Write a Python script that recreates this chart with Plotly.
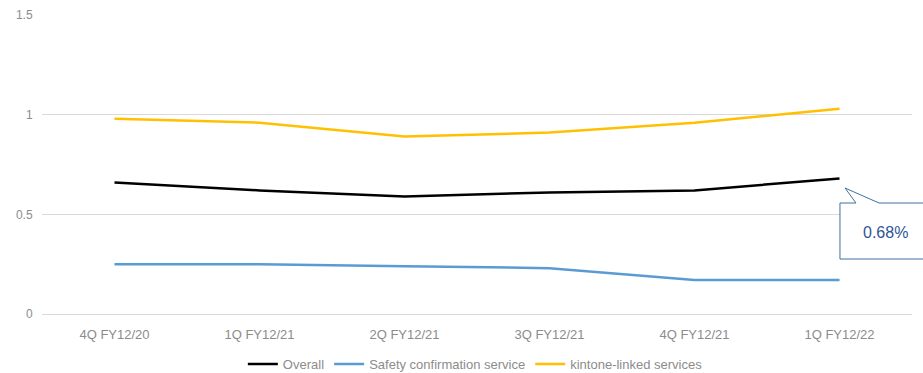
import plotly.graph_objects as go

categories = ["4Q FY12/20", "1Q FY12/21", "2Q FY12/21", "3Q FY12/21", "4Q FY12/21", "1Q FY12/22"]
overall = [0.66, 0.62, 0.59, 0.61, 0.62, 0.68]
safety = [0.25, 0.25, 0.24, 0.23, 0.17, 0.17]
kintone = [0.98, 0.96, 0.89, 0.91, 0.96, 1.03]
y_ticks = [0, 0.5, 1, 1.5]
y_tick_labels = ["0", "0.5", "1", "1.5"]
callout_text = "0.68%"

W, H = 923, 373
L, R, T, B = 42, 11, 15, 59
pw, ph = W - L - R, H - T - B

def px(x):
    return (x - L) / pw

def py(y):
    return (H - B - y) / ph

fig = go.Figure()
fig.add_trace(go.Scatter(x=categories, y=overall, mode="lines", name="Overall",
                         line=dict(color="#000000", width=2.5)))
fig.add_trace(go.Scatter(x=categories, y=safety, mode="lines", name="Safety confirmation service",
                         line=dict(color="#5b9bd5", width=2.5)))
fig.add_trace(go.Scatter(x=categories, y=kintone, mode="lines", name="kintone-linked services",
                         line=dict(color="#ffc000", width=2.5)))

pts = [(845, 188), (856, 203), (840, 203), (840, 259), (935, 259), (935, 203), (879, 203)]
path = "M " + " L ".join(f"{px(a):.4f},{py(b):.4f}" for a, b in pts) + " Z"
fig.add_shape(type="path", xref="paper", yref="paper", path=path,
              line=dict(color="#41719c", width=1), fillcolor="#ffffff", layer="above")
fig.add_annotation(x=px(885), y=py(232), xref="paper", yref="paper", text=callout_text,
                   showarrow=False, font=dict(family="Liberation Sans, Arial", size=16, color="#2f5597"),
                   xanchor="center", yanchor="middle")

fig.update_layout(
    width=W, height=H,
    margin=dict(l=L, r=R, t=T, b=B, autoexpand=False),
    paper_bgcolor="#ffffff", plot_bgcolor="#ffffff",
    font=dict(family="Liberation Sans, Arial", size=13, color="#8c8c8c"),
    showlegend=True,
    legend=dict(orientation="h", x=0.515, xanchor="center", xref="container",
                y=9 / H, yanchor="middle", yref="container",
                font=dict(size=13, color="#8c8c8c"), itemwidth=30, tracegroupgap=0),
    xaxis=dict(range=[-0.5, 5.5], showgrid=False, showline=True, linecolor="#d9d9d9", linewidth=1,
               ticks="outside", ticklen=8, tickcolor="rgba(0,0,0,0)",
               tickfont=dict(size=13, color="#8c8c8c")),
    yaxis=dict(range=[0, 1.5], tickvals=y_ticks, ticktext=y_tick_labels,
               showgrid=True, gridcolor="#d9d9d9", gridwidth=1, zeroline=False,
               showline=False, ticks="outside", ticklen=6, tickcolor="rgba(0,0,0,0)",
               tickfont=dict(size=12, color="#8c8c8c")),
)

fig.write_html("out.html")
